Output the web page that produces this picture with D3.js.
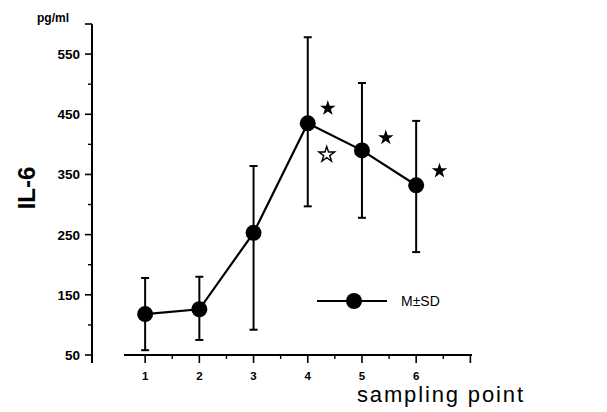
<!DOCTYPE html>
<html lang="en">
<head>
<meta charset="UTF-8">
<title>IL-6</title>
<script src="https://d3js.org/d3.v7.min.js"></script>
<style>
  body { margin: 0; background: #fff; }
  svg { font-family: "Liberation Sans", Arial, sans-serif; }
</style>
</head>
<body>
<svg width="607" height="412"></svg>
<script>
// data
const points = [1, 2, 3, 4, 5, 6];
const means  = [118, 126, 253, 435, 390, 332];
const upper  = [178, 180, 364, 578, 502, 439];
const lower  = [58, 75, 92, 297, 278, 221];
const yTickLabels = [50, 150, 250, 350, 450, 550];
// significance stars: [x position, value, filled?]
const stars = [[4.37, 460, true], [4.35, 383, false], [5.44, 411, true], [6.43, 356, true]];

const svg = d3.select("svg");

// scales
const x = d3.scaleLinear().domain([0.61, 7.03]).range([124, 472]);
const y = d3.scaleLinear().domain([50, 600]).range([355, 24]);

// y axis
svg.append("line")
  .attr("x1", 92).attr("x2", 92).attr("y1", y(600)).attr("y2", 363)
  .attr("stroke", "#000").attr("stroke-width", 2);
svg.selectAll(".ymaj").data(yTickLabels.concat([600])).enter().append("line")
  .attr("x1", 85).attr("x2", 92)
  .attr("y1", d => y(d)).attr("y2", d => y(d))
  .attr("stroke", "#000").attr("stroke-width", 1.6);
svg.selectAll(".ymin").data(d3.range(100, 600, 100)).enter().append("line")
  .attr("x1", 88).attr("x2", 92)
  .attr("y1", d => y(d)).attr("y2", d => y(d))
  .attr("stroke", "#000").attr("stroke-width", 1.4);
svg.selectAll(".ylab").data(yTickLabels).enter().append("text")
  .attr("x", 80).attr("y", d => y(d) + 5)
  .attr("text-anchor", "end")
  .attr("font-size", "13.5px").attr("font-weight", "bold")
  .text(d => d);

svg.append("text").attr("x", 37).attr("y", 22)
  .attr("font-size", "12px").attr("font-weight", "bold").text("pg/ml");

svg.append("text")
  .attr("transform", "translate(35,188) rotate(-90)")
  .attr("text-anchor", "middle")
  .attr("font-size", "24px").attr("font-weight", "bold")
  .text("IL-6");

// x axis
svg.append("line")
  .attr("x1", 124).attr("x2", 472).attr("y1", 355).attr("y2", 355)
  .attr("stroke", "#000").attr("stroke-width", 2);
svg.selectAll(".xmaj").data(points.concat([7])).enter().append("line")
  .attr("x1", d => x(d)).attr("x2", d => x(d))
  .attr("y1", 355).attr("y2", 363)
  .attr("stroke", "#000").attr("stroke-width", 1.6);
svg.selectAll(".xmin").data(d3.range(1.5, 7, 1)).enter().append("line")
  .attr("x1", d => x(d)).attr("x2", d => x(d))
  .attr("y1", 355).attr("y2", 359)
  .attr("stroke", "#000").attr("stroke-width", 1.4);
svg.selectAll(".xlab").data(points).enter().append("text")
  .attr("x", d => x(d)).attr("y", 380)
  .attr("text-anchor", "middle")
  .attr("font-size", "11.5px").attr("font-weight", "bold")
  .text(d => d);

svg.append("text").attr("x", 357).attr("y", 402)
  .attr("font-size", "22px").attr("textLength", 166)
  .text("sampling point");

// error bars
const bars = svg.append("g").attr("stroke", "#000").attr("stroke-width", 2);
points.forEach((p, i) => {
  bars.append("line").attr("x1", x(p)).attr("x2", x(p))
    .attr("y1", y(upper[i])).attr("y2", y(lower[i]));
  [upper[i], lower[i]].forEach(v => {
    bars.append("line").attr("x1", x(p) - 4).attr("x2", x(p) + 4)
      .attr("y1", y(v)).attr("y2", y(v));
  });
});

// mean line and markers
const line = d3.line().x((d, i) => x(points[i])).y(d => y(d));
svg.append("path").datum(means).attr("d", line)
  .attr("fill", "none").attr("stroke", "#000").attr("stroke-width", 2.2);
svg.selectAll(".dot").data(means).enter().append("circle")
  .attr("cx", (d, i) => x(points[i])).attr("cy", d => y(d)).attr("r", 8)
  .attr("fill", "#000");

// stars
const star = d3.symbol().type(d3.symbolStar).size(75);
svg.selectAll(".star").data(stars).enter().append("path")
  .attr("d", star)
  .attr("transform", d => `translate(${x(d[0])},${y(d[1])})`)
  .attr("fill", d => d[2] ? "#000" : "#fff")
  .attr("stroke", "#000").attr("stroke-width", d => d[2] ? 0 : 1.4);

// legend
svg.append("line").attr("x1", 317).attr("x2", 387).attr("y1", 301).attr("y2", 301)
  .attr("stroke", "#000").attr("stroke-width", 2);
svg.append("circle").attr("cx", 354).attr("cy", 301).attr("r", 8).attr("fill", "#000");
svg.append("text").attr("x", 401).attr("y", 306)
  .attr("font-size", "14px").text("M\u00b1SD");
</script>
</body>
</html>
